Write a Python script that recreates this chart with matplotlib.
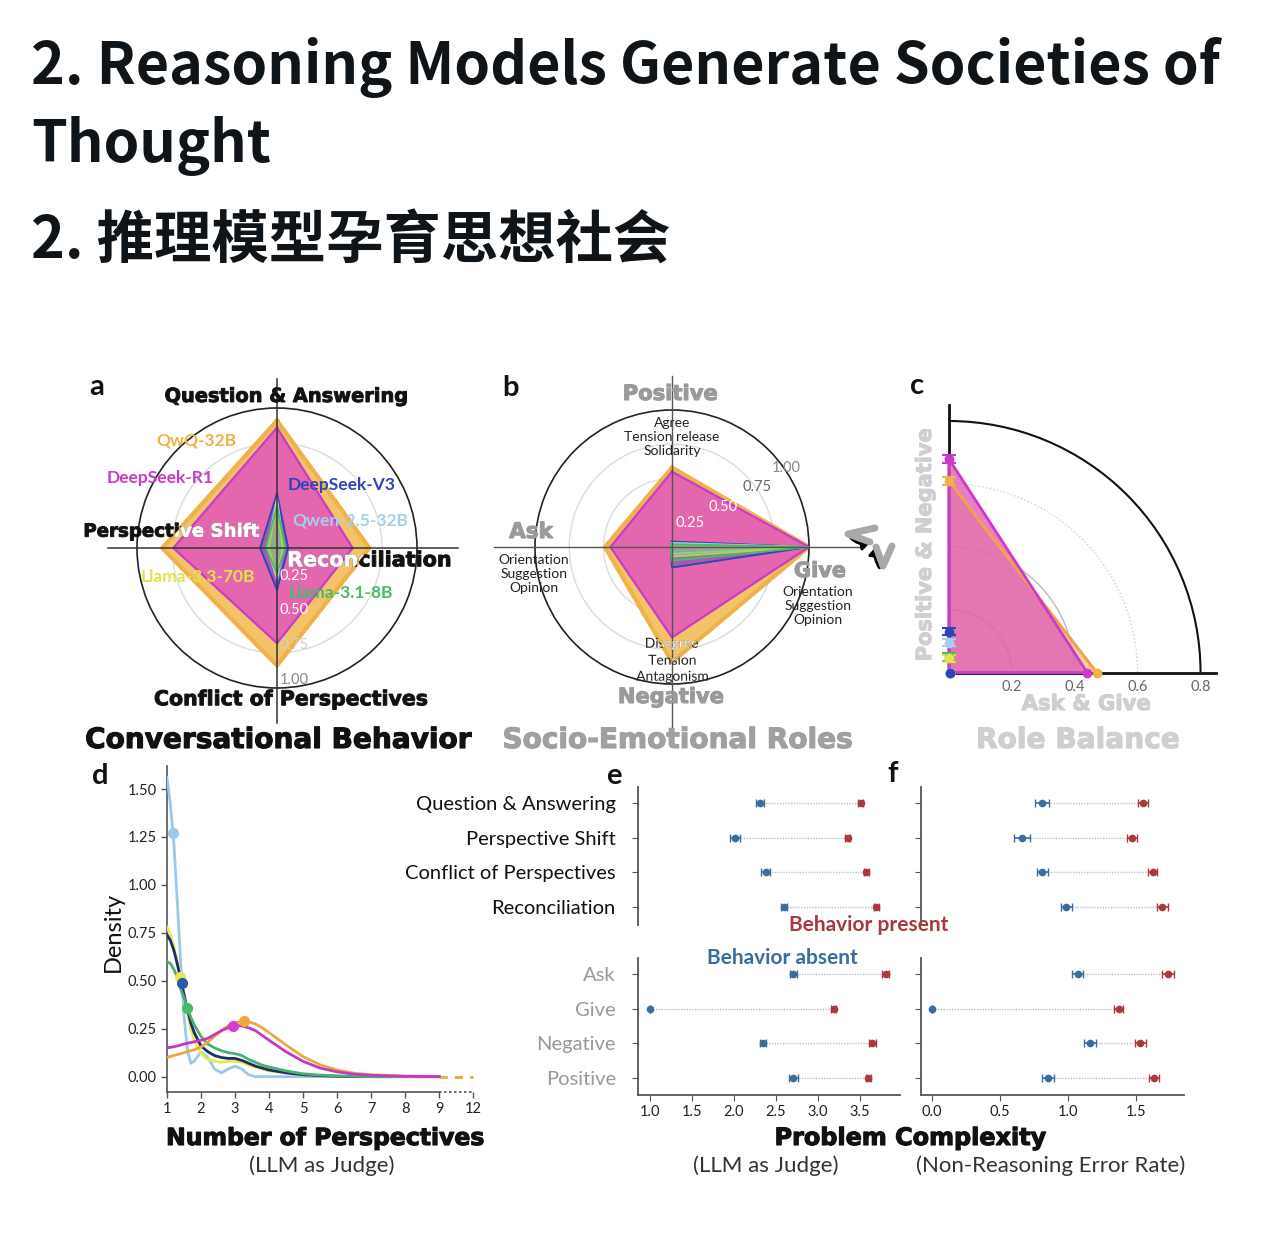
import numpy as np
import matplotlib.pyplot as plt
import matplotlib.patheffects as pe
from matplotlib.patches import Arc, Polygon, PathPatch, FancyArrowPatch
from matplotlib.textpath import TextPath
from matplotlib.font_manager import FontProperties
from matplotlib.transforms import Affine2D

W, H = 1280, 1254
fig = plt.figure(figsize=(12.8, 12.54), dpi=100)

# ---- data ----
models = ["QwQ-32B", "DeepSeek-R1", "DeepSeek-V3", "Qwen-2.5-32B", "Llama-3.3-70B", "Llama-3.1-8B"]
colors = ["#EDB24A", "#C83CC8", "#2F44B8", "#A6CFEE", "#E2E24A", "#4CB86A"]

# panel a: Q&A, Reconciliation, Conflict, Perspective Shift
a_labels = ["Question & Answering", "Reconciliation", "Conflict of Perspectives", "Perspective Shift"]
a_vals = {
    "QwQ-32B": [0.91, 0.66, 0.84, 0.82],
    "DeepSeek-R1": [0.86, 0.54, 0.68, 0.74],
    "DeepSeek-V3": [0.39, 0.08, 0.30, 0.12],
    "Qwen-2.5-32B": [0.35, 0.05, 0.22, 0.07],
    "Llama-3.3-70B": [0.33, 0.04, 0.20, 0.06],
    "Llama-3.1-8B": [0.30, 0.06, 0.18, 0.08],
}
# panel b: Positive, Give, Negative, Ask
b_vals = {
    "QwQ-32B": [0.58, 1.00, 0.84, 0.49],
    "DeepSeek-R1": [0.55, 1.00, 0.66, 0.45],
    "DeepSeek-V3": [0.04, 1.00, 0.15, 0.01],
    "Qwen-2.5-32B": [0.03, 1.00, 0.05, 0.01],
    "Llama-3.3-70B": [0.02, 1.00, 0.07, 0.01],
    "Llama-3.1-8B": [0.02, 1.00, 0.10, 0.01],
}
# panel c: (Ask & Give, Positive & Negative)
c_ask_give = [0.47, 0.44, 0.005, 0.005, 0.005, 0.005]
c_pos_neg = [0.61, 0.68, 0.13, 0.095, 0.045, 0.05]

# panel d: density of number of perspectives
d_x = [1.0, 1.1, 1.2, 1.3, 1.4, 1.5, 1.6, 1.7, 1.8, 2.0, 2.2, 2.4, 2.6, 2.8, 3.0,
       3.2, 3.4, 3.6, 3.8, 4.0, 4.5, 5.0, 5.5, 6.0, 6.5, 7.0, 8.0, 9.0]
d_dens = {
    "Qwen-2.5-32B": [1.56, 1.42, 1.22, 0.92, 0.60, 0.32, 0.14, 0.07, 0.08, 0.13, 0.10, 0.04, 0.02, 0.04,
                     0.055, 0.04, 0.01, 0.0, 0.0, 0.0, 0.0, 0.0, 0.0, 0.0, 0.0, 0.0, 0.0, 0.0],
    "Llama-3.3-70B": [0.78, 0.74, 0.68, 0.60, 0.52, 0.42, 0.33, 0.25, 0.19, 0.12, 0.09, 0.08, 0.075, 0.08,
                      0.08, 0.075, 0.06, 0.05, 0.04, 0.03, 0.02, 0.01, 0.005, 0.002, 0.0, 0.0, 0.0, 0.0],
    "DeepSeek-V3": [0.74, 0.71, 0.66, 0.59, 0.51, 0.43, 0.35, 0.28, 0.23, 0.16, 0.13, 0.11, 0.10, 0.095,
                    0.095, 0.085, 0.07, 0.055, 0.045, 0.035, 0.02, 0.01, 0.005, 0.002, 0.0, 0.0, 0.0, 0.0],
    "Llama-3.1-8B": [0.60, 0.59, 0.56, 0.52, 0.46, 0.41, 0.36, 0.31, 0.27, 0.21, 0.17, 0.15, 0.135, 0.125,
                     0.12, 0.11, 0.09, 0.075, 0.06, 0.05, 0.03, 0.015, 0.008, 0.004, 0.002, 0.0, 0.0, 0.0],
    "DeepSeek-R1": [0.15, 0.153, 0.156, 0.16, 0.165, 0.17, 0.174, 0.178, 0.182, 0.19, 0.20, 0.22, 0.24, 0.255,
                    0.265, 0.265, 0.255, 0.24, 0.215, 0.19, 0.13, 0.08, 0.045, 0.025, 0.013, 0.007, 0.002, 0.0],
    "QwQ-32B": [0.10, 0.105, 0.11, 0.115, 0.12, 0.125, 0.13, 0.135, 0.14, 0.155, 0.18, 0.21, 0.24, 0.265,
                0.28, 0.29, 0.285, 0.275, 0.255, 0.23, 0.165, 0.105, 0.062, 0.035, 0.018, 0.01, 0.003, 0.0],
}
d_peak = {
    "Qwen-2.5-32B": (1.18, 1.27), "Llama-3.3-70B": (1.38, 0.52), "DeepSeek-V3": (1.44, 0.49),
    "Llama-3.1-8B": (1.59, 0.36), "DeepSeek-R1": (2.94, 0.265), "QwQ-32B": (3.26, 0.29),
}
d_ticks = [1, 2, 3, 4, 5, 6, 7, 8, 9, 12]

# panels e/f
beh_rows = ["Question & Answering", "Perspective Shift", "Conflict of Perspectives", "Reconciliation"]
role_rows = ["Ask", "Give", "Negative", "Positive"]
e_absent = [2.31, 2.02, 2.38, 2.60, 2.71, 1.00, 2.35, 2.71]
e_absent_err = [0.05, 0.06, 0.05, 0.04, 0.04, 0.0, 0.04, 0.05]
e_present = [3.51, 3.36, 3.58, 3.70, 3.81, 3.19, 3.65, 3.60]
e_present_err = [0.03, 0.03, 0.03, 0.03, 0.04, 0.03, 0.04, 0.03]
f_absent = [0.81, 0.66, 0.81, 0.985, 1.07, 0.0, 1.16, 0.85]
f_absent_err = [0.05, 0.06, 0.04, 0.04, 0.04, 0.0, 0.045, 0.045]
f_present = [1.55, 1.47, 1.62, 1.69, 1.73, 1.37, 1.53, 1.63]
f_present_err = [0.035, 0.035, 0.035, 0.04, 0.045, 0.035, 0.04, 0.035]

BODY = "Lato"
HEAVY = FontProperties(family="DejaVu Sans", weight="bold")
BLUE = "#3C6C9E"
RED = "#A8393E"


def rect(x0, y0, w, h):
    return [x0 / W, 1 - (y0 + h) / H, w / W, h / H]


def ftext(x, y, s, **kw):
    kw.setdefault("ha", "center")
    kw.setdefault("va", "center")
    kw.setdefault("family", BODY)
    return fig.text(x / W, 1 - y / H, s, **kw)


def fit_size(s, width_px, prop=HEAVY):
    # font size (pt) that makes the string about width_px wide
    w100 = TextPath((0, 0), s, size=100, prop=prop).get_extents().width
    return 100 * width_px / w100 * 72 / 100


def htext(x, y, s, width_px, color="#111111", **kw):
    size = fit_size(s, width_px)
    return ftext(x, y, s, fontsize=size, family="DejaVu Sans", weight="bold",
                 color=color, path_effects=[pe.withStroke(linewidth=0.8, foreground=color)], **kw)


# overlay in pixel coords (y up)
ov = fig.add_axes([0, 0, 1, 1], zorder=20)
ov.set_xlim(0, W)
ov.set_ylim(0, H)
ov.axis("off")
ov.patch.set_alpha(0)


def path_label(x, y, s, size, prop=HEAVY, color="#111111", clip=None, ha="center", stroke=0.7):
    # label drawn as a path, plus a white copy clipped to a filled shape
    tp = TextPath((0, 0), s, size=size * 100 / 72, prop=prop)
    ref = TextPath((0, 0), "Hg", size=size * 100 / 72, prop=prop).get_extents()
    bb = tp.get_extents()
    dx = -(bb.x0 + bb.width / 2) if ha == "center" else -bb.x0
    dy = -(ref.y0 + ref.height / 2)
    path = Affine2D().translate(x + dx, H - y + dy).transform_path(tp)
    ov.add_patch(PathPatch(path, fc=color, ec=color, lw=stroke))
    if clip is not None:
        wp = PathPatch(path, fc="white", ec="white", lw=stroke)
        ov.add_patch(wp)
        wp.set_clip_path(clip)


theta = np.array([np.pi / 2, 0, 3 * np.pi / 2, np.pi])
th = np.append(theta, theta[0])


def setup_radar(ax):
    ax.set_ylim(0, 1)
    ax.set_xticks([])
    ax.set_yticks([0.25, 0.5, 0.75])
    ax.set_yticklabels([])
    ax.yaxis.grid(True, color="#dcdcdc", lw=1)
    ax.xaxis.grid(False)
    ax.spines["polar"].set_color("#222222")
    ax.spines["polar"].set_linewidth(1.2)
    ax.patch.set_alpha(0)


def draw_radar(ax, vals):
    polys = {}
    for name, col in zip(models, colors):
        v = np.append(vals[name], vals[name][0])
        if name == "QwQ-32B":
            polys[name] = ax.fill(th, v, color="#F4C268", zorder=2)[0]
            ax.plot(th, v, color=col, lw=3, zorder=2)
        elif name == "DeepSeek-R1":
            polys[name] = ax.fill(th, v, color="#E466AE", zorder=3)[0]
            ax.plot(th, v, color=col, lw=1.6, zorder=3)
        else:
            ax.fill(th, v, color=col, alpha=0.35, zorder=4)
            ax.plot(th, v, color=col, lw=1.3, zorder=4)
    return polys


# ---- title ----
tkw = dict(family=["Noto Sans CJK SC", "DejaVu Sans"], weight="bold", fontsize=41.3,
           color="#0F1419", ha="left", va="baseline")
ftext(31, 84, "2. Reasoning Models Generate Societies of", **tkw)
ftext(31, 162, "Thought", **tkw)
ftext(31, 259, "2. 推理模型孕育思想社会", **tkw)

# ---- panel a ----
ax_a = fig.add_axes(rect(137, 408, 280, 280), projection="polar")
setup_radar(ax_a)
polys_a = draw_radar(ax_a, a_vals)
for ang, ln in zip([0, np.pi / 2, np.pi, 3 * np.pi / 2], [1.29, 1.21, 1.21, 1.25]):
    ax_a.plot([ang, ang], [0, ln], color="#333333", lw=1.1, zorder=6, clip_on=False)

name_pos_a = {"QwQ-32B": (196, 440), "DeepSeek-R1": (160, 478), "DeepSeek-V3": (342, 485),
              "Qwen-2.5-32B": (350, 521), "Llama-3.3-70B": (198, 577), "Llama-3.1-8B": (341, 593)}
for name, col in zip(models, colors):
    x, y = name_pos_a[name]
    ftext(x, y, name, color=col, fontsize=12.5, weight="bold", zorder=30)

for r, y, c in zip(["0.25", "0.50", "0.75", "1.00"], [576, 610, 645, 680],
                   ["white", "white", "#d0d0d0", "#888888"]):
    ftext(294, y, r, color=c, fontsize=10.5, zorder=30)

path_label(286, 397, "Question & Answering", fit_size("Question & Answering", 241))
path_label(85, 532, "Perspective Shift", fit_size("Perspective Shift", 174),
           clip=polys_a["QwQ-32B"], ha="left")
path_label(289, 561, "Reconciliation", fit_size("Reconciliation", 161),
           clip=polys_a["QwQ-32B"], ha="left")
path_label(291, 700, "Conflict of Perspectives", fit_size("Conflict of Perspectives", 272))
htext(279, 740, "Conversational Behavior", 385)
ftext(97, 387, "a", fontsize=21, weight="bold", color="#111111")

# ---- panel b ----
ax_b = fig.add_axes(rect(535, 410, 274, 274), projection="polar")
setup_radar(ax_b)
polys_b = draw_radar(ax_b, b_vals)
for ang, ln in zip([0, np.pi / 2, np.pi, 3 * np.pi / 2], [1.4, 1.25, 1.3, 1.4]):
    ax_b.plot([ang, ang], [0, ln], color="#555555", lw=1.0, zorder=6, clip_on=False)

for r, (x, y), c in zip(["0.25", "0.50", "0.75", "1.00"],
                        [(690, 523), (723, 507), (757, 487), (786, 468)],
                        ["white", "white", "#666666", "#888888"]):
    ftext(x, y, r, color=c, fontsize=10.5, zorder=30)

gray_b = "#9A9A9A"
htext(670, 394, "Positive", 92, color=gray_b)
ftext(672, 437, "Agree\nTension release\nSolidarity", fontsize=10, color="#222222", linespacing=1.2)
htext(531, 532, "Ask", 44, color=gray_b)
ftext(534, 574, "Orientation\nSuggestion\nOpinion", fontsize=10, color="#222222", linespacing=1.2)
htext(820, 571, "Give", 50, color=gray_b)
ftext(818, 606, "Orientation\nSuggestion\nOpinion", fontsize=10, color="#222222", linespacing=1.2)
body_prop = FontProperties(family=BODY)
for ln, y in zip(["Disagree", "Tension", "Antagonism"], [644, 661, 677]):
    path_label(672, y, ln, 10, prop=body_prop, color="#222222", clip=polys_b["QwQ-32B"], stroke=0)
htext(671, 697, "Negative", 103, color=gray_b)
htext(678, 740, "Socio-Emotional Roles", 347, color="#A0A0A0")
ftext(511, 388, "b", fontsize=21, weight="bold", color="#111111")

# little role-switch arrows
ov.plot([875, 848, 870], [H - 528, H - 534, H - 542], color="#A8A8A8", lw=5, solid_capstyle="round")
ov.plot([876, 883, 892], [H - 547, H - 566, H - 546], color="#A8A8A8", lw=5, solid_capstyle="round")
ov.add_patch(FancyArrowPatch((849, H - 536), (872, H - 543), connectionstyle="arc3,rad=0.3",
                             arrowstyle="-|>,head_length=4,head_width=3", color="black", lw=2.2))
ov.add_patch(FancyArrowPatch((881, H - 570), (875, H - 545), connectionstyle="arc3,rad=-0.2",
                             arrowstyle="-|>,head_length=4,head_width=3", color="black", lw=2.2))

# ---- panel c ----
ax_c = fig.add_axes(rect(933, 399, 299, 283))
ax_c.set_xlim(-0.05, 0.9)
ax_c.set_ylim(-0.03, 0.87)
ax_c.patch.set_alpha(0)
for s in ["top", "right"]:
    ax_c.spines[s].set_visible(False)
for s in ["left", "bottom"]:
    ax_c.spines[s].set_position(("data", 0))
    ax_c.spines[s].set_bounds(0, 0.85)
    ax_c.spines[s].set_linewidth(2)
    ax_c.spines[s].set_color("#111111")
ax_c.set_yticks([])
ax_c.set_xticks([0.2, 0.4, 0.6, 0.8])
ax_c.set_xticklabels(["0.2", "0.4", "0.6", "0.8"])
ax_c.tick_params(axis="x", length=0, pad=5, labelsize=10.5, labelcolor="#666666")
for lab in ax_c.get_xticklabels():
    lab.set_family(BODY)
for r, col, ls in [(0.2, "#999999", "-"), (0.4, "#bbbbbb", "-"), (0.6, "#cfcfcf", ":")]:
    ax_c.add_patch(Arc((0, 0), 2 * r, 2 * r, theta1=0, theta2=90, color=col, lw=1, ls=ls, zorder=1))
ax_c.add_patch(Arc((0, 0), 1.6, 1.6, theta1=0, theta2=90, color="#111111", lw=1.5, zorder=1))

ax_c.add_patch(Polygon([(0, 0), (c_ask_give[0], 0), (0, c_pos_neg[0])], closed=True,
                       fc="#F2B860", ec="none", alpha=0.6, zorder=2))
ax_c.add_patch(Polygon([(0, 0), (c_ask_give[1], 0), (0, c_pos_neg[1])], closed=True,
                       fc="#E060B8", ec="none", alpha=0.8, zorder=3))
ax_c.plot([c_ask_give[0], 0], [0, c_pos_neg[0]], color="#F0A050", lw=2.2, zorder=4)
ax_c.plot([0, c_ask_give[1], 0, 0], [0, 0, c_pos_neg[1], 0], color="#C83CC8", lw=2, zorder=5)
for i in range(len(models))[::-1]:
    ax_c.errorbar([0], [c_pos_neg[i]], yerr=0.012, fmt="o", ms=6, color=colors[i],
                  capsize=5, elinewidth=1.2, capthick=1.5, zorder=6, clip_on=False)
    ax_c.errorbar([c_ask_give[i]], [0], xerr=0.006, fmt="o", ms=6, color=colors[i],
                  capsize=3, zorder=6, clip_on=False)

htext(925, 545, "Positive & Negative", 230, color="#CFCFCF", rotation=90)
htext(1086, 704, "Ask & Give", 128, color="#CFCFCF")
htext(1078, 740, "Role Balance", 200, color="#CFCFCF")
ftext(917, 386, "c", fontsize=21, weight="bold", color="#111111")

# ---- panel d ----
ax_d = fig.add_axes(rect(167, 766, 306, 326))
ax_d.set_xlim(1, 10)
ax_d.set_ylim(-0.08, 1.62)
ax_d.patch.set_alpha(0)
ax_d.spines["top"].set_visible(False)
ax_d.spines["right"].set_visible(False)
for s in ["left", "bottom"]:
    ax_d.spines[s].set_color("#555555")
    ax_d.spines[s].set_linewidth(1.2)
ax_d.spines["bottom"].set_bounds(1, 9)
ax_d.plot([9, 10], [-0.08, -0.08], ls=(0, (1.5, 1.5)), color="#555555", lw=1.2, clip_on=False)
pos_ticks = list(range(1, 10)) + [10]
ax_d.set_xticks(pos_ticks)
ax_d.set_xticklabels([str(t) for t in d_ticks])
ax_d.set_yticks([0, 0.25, 0.5, 0.75, 1.0, 1.25, 1.5])
ax_d.set_yticklabels(["0.00", "0.25", "0.50", "0.75", "1.00", "1.25", "1.50"])
ax_d.tick_params(length=4, width=1, color="#555555", labelsize=10.5, labelcolor="#222222")
for lab in ax_d.get_xticklabels() + ax_d.get_yticklabels():
    lab.set_family(BODY)

d_order = ["Qwen-2.5-32B", "Llama-3.3-70B", "DeepSeek-V3", "Llama-3.1-8B", "QwQ-32B", "DeepSeek-R1"]
d_line_col = {"Qwen-2.5-32B": "#9CC8EA", "Llama-3.3-70B": "#E8E850", "DeepSeek-V3": "#1E2C66",
              "Llama-3.1-8B": "#4CB070", "QwQ-32B": "#EBA842", "DeepSeek-R1": "#C537C5"}
d_mark_col = {"Qwen-2.5-32B": "#9CC8EA", "Llama-3.3-70B": "#E8E850", "DeepSeek-V3": "#2C56B8",
              "Llama-3.1-8B": "#4CB86A", "QwQ-32B": "#EBA842", "DeepSeek-R1": "#D83CD0"}
for name in d_order:
    ax_d.plot(d_x, d_dens[name], color=d_line_col[name], lw=2, zorder=3)
    px, py = d_peak[name]
    ax_d.plot([px], [py], "o", color=d_mark_col[name], ms=7, zorder=4)
ax_d.plot([9, 10], [0, 0], ls=(0, (3, 2.5)), color="#EBA842", lw=2, clip_on=False)

ftext(113, 932, "Density", fontsize=17, rotation=90, color="#111111")
htext(325, 1138, "Number of Perspectives", 315)
ftext(322, 1166, "(LLM as Judge)", fontsize=16, color="#333333")
ftext(100, 776, "d", fontsize=21, weight="bold", color="#111111")


# ---- panels e & f ----
def dumbbell(ax, rows, lo, lo_err, hi, hi_err, xlim, labels, label_cols, bottom):
    y = np.arange(len(rows))
    ax.set_xlim(*xlim)
    ax.patch.set_alpha(0)
    ax.hlines(y, lo, hi, colors="#B9C3D3", linestyles=(0, (1, 1)), lw=1, zorder=1)
    ax.errorbar(lo, y, xerr=lo_err, fmt="o", ms=4.5, color=BLUE, capsize=3, elinewidth=1.2, zorder=3)
    ax.errorbar(hi, y, xerr=hi_err, fmt="o", ms=4.5, color=RED, capsize=3, elinewidth=1.2, zorder=3)
    ax.spines["top"].set_visible(False)
    ax.spines["right"].set_visible(False)
    ax.spines["left"].set_color("#555555")
    ax.spines["left"].set_linewidth(1.3)
    ax.set_yticks(y)
    if labels:
        ax.set_yticklabels(rows)
        for lab, c in zip(ax.get_yticklabels(), label_cols):
            lab.set_color(c)
            lab.set_family(BODY)
            lab.set_fontsize(14.5)
    else:
        ax.set_yticklabels([])
    ax.tick_params(axis="y", length=4, color="#555555", pad=12)
    if bottom:
        ax.spines["bottom"].set_color("#555555")
        ax.spines["bottom"].set_linewidth(1.3)
        ax.tick_params(axis="x", length=4, color="#555555", labelsize=10.5, labelcolor="#222222")
        for lab in ax.get_xticklabels():
            lab.set_family(BODY)
    else:
        ax.spines["bottom"].set_visible(False)
        ax.set_xticks([])


top_cols = ["#111111"] * 4
bot_cols = ["#999999"] * 4
ax_e1 = fig.add_axes(rect(638, 787, 262, 138))
ax_e1.set_ylim(3.52, -0.46)
dumbbell(ax_e1, beh_rows, e_absent[:4], e_absent_err[:4], e_present[:4], e_present_err[:4],
         (0.86, 3.98), True, top_cols, False)
ax_e2 = fig.add_axes(rect(638, 958, 262, 137))
ax_e2.set_ylim(3.49, -0.46)
ax_e2.set_xticks([1.0, 1.5, 2.0, 2.5, 3.0, 3.5])
dumbbell(ax_e2, role_rows, e_absent[4:], e_absent_err[4:], e_present[4:], e_present_err[4:],
         (0.86, 3.98), True, bot_cols, True)

ax_f1 = fig.add_axes(rect(921, 787, 263, 138))
ax_f1.set_ylim(3.52, -0.46)
dumbbell(ax_f1, beh_rows, f_absent[:4], f_absent_err[:4], f_present[:4], f_present_err[:4],
         (-0.08, 1.85), False, top_cols, False)
ax_f2 = fig.add_axes(rect(921, 958, 263, 137))
ax_f2.set_ylim(3.49, -0.46)
ax_f2.set_xticks([0.0, 0.5, 1.0, 1.5])
dumbbell(ax_f2, role_rows, f_absent[4:], f_absent_err[4:], f_present[4:], f_present_err[4:],
         (-0.08, 1.85), False, bot_cols, True)

ftext(869, 925, "Behavior present", fontsize=15, weight="bold", color=RED)
ftext(782, 958, "Behavior absent", fontsize=15, weight="bold", color=BLUE)
htext(910, 1138, "Problem Complexity", 269)
ftext(766, 1166, "(LLM as Judge)", fontsize=16, color="#333333")
ftext(1051, 1166, "(Non-Reasoning Error Rate)", fontsize=16, color="#333333")
ftext(614, 776, "e", fontsize=21, weight="bold", color="#111111")
ftext(893, 774, "f", fontsize=21, weight="bold", color="#111111")

fig.savefig("out.png", dpi=100, facecolor="white")
